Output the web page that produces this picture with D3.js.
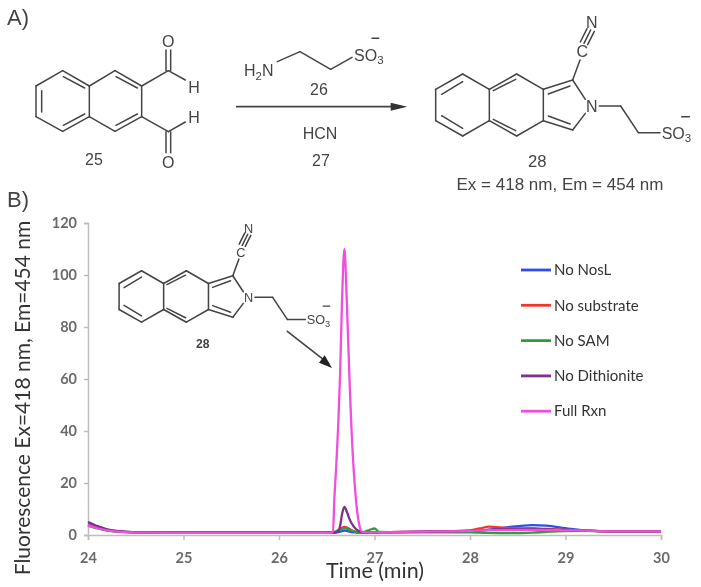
<!DOCTYPE html>
<html>
<head>
<meta charset="utf-8">
<style>
  html, body { margin: 0; padding: 0; background: #fff; }
  svg { display: block; filter: blur(0.5px); }
  .chem { font-family: "Liberation Sans", Arial, sans-serif; fill: #444; }
  .axis text { font-family: "Lato", sans-serif; font-size: 14.5px; font-weight: 700; fill: #6a6a6a; }
  .axis path, .axis line { stroke: #bdbdbd; stroke-width: 1.5; }
</style>
<script src="https://cdn.jsdelivr.net/npm/d3@7"></script>
</head>
<body>
<svg width="701" height="587"></svg>
<script>
// retention time (min), shared by all the traces
let times = [24, 24.1, 24.2, 24.35, 24.6, 25, 25.5, 26, 26.4, 26.5, 26.565, 26.58, 26.6, 26.62, 26.64, 26.66, 26.685, 26.71, 26.74, 26.76, 26.8, 26.84, 26.87, 26.95, 27, 27.05, 27.5, 28, 28.1, 28.2, 28.4, 28.65, 28.8, 29, 29.2, 29.5, 30];

let noNosl   = [4.2, 3, 2, 1.3, 1, 0.9, 0.9, 0.9, 0.9, 0.9, 0.9, 0.9, 1, 1.1, 1.3, 1.5, 1.7, 1.6, 1.3, 1.1, 1, 0.9, 0.9, 0.9, 0.9, 1, 1.2, 1.5, 1.7, 2, 3, 3.8, 3.6, 2.6, 1.8, 1.4, 1.4];
let noSubstr = [4, 2.8, 1.9, 1.3, 1, 0.9, 0.9, 0.9, 0.9, 0.9, 1, 1.1, 1.4, 1.9, 2.4, 2.8, 3.1, 2.9, 2.3, 1.8, 1.2, 0.9, 0.9, 0.9, 1, 1.1, 1.3, 1.8, 2.5, 3.2, 2.7, 2.5, 2.3, 2, 1.7, 1.4, 1.4];
let noSam    = [3.6, 2.5, 1.7, 1.2, 1, 0.9, 0.9, 0.9, 1, 1, 1.1, 1.2, 1.4, 1.7, 2, 2.4, 2.6, 2.4, 2, 1.7, 1.3, 1.1, 1.1, 2, 2.5, 1.2, 1, 1, 0.9, 0.8, 0.7, 0.9, 1.2, 1.5, 1.6, 1.4, 1.4];
let noDithio = [5, 3.4, 2.2, 1.4, 1, 0.9, 0.9, 0.9, 0.9, 0.9, 0.9, 0.9, 1, 1.5, 3.5, 8, 10.8, 9, 6, 4.5, 2.5, 1.5, 1.1, 0.9, 1, 1.1, 1.3, 1.6, 1.9, 2.1, 2.2, 2.4, 2.2, 1.9, 1.7, 1.4, 1.4];
let fullRxn  = [3.8, 2.6, 1.8, 1.2, 0.9, 0.8, 0.8, 0.8, 0.8, 0.8, 1, 14, 27, 42, 62, 90, 110, 90, 58, 40, 16, 4, 1.2, 0.9, 1, 1.1, 1.3, 1.6, 1.8, 1.9, 1.9, 2, 1.9, 1.8, 1.7, 1.4, 1.4];

let seriesNames = ["No NosL", "No substrate", "No SAM", "No Dithionite", "Full Rxn"];
let seriesValues = [noNosl, noSubstr, noSam, noDithio, fullRxn];
let seriesColors = ["#2f4fe8", "#f0372f", "#2f9e3a", "#7d2f8e", "#ee4fdc"];

let xTicks = [24, 25, 26, 27, 28, 29, 30];
let yTicks = [0, 20, 40, 60, 80, 100, 120];

// bonds of the drawn molecules, [x1, y1, x2, y2]
let bonds25 = [
  [108,258,188,212],[188,212,268,258],[268,258,268,350],[268,350,188,394],[188,394,108,350],[108,350,108,258],
  [268,258,345,212],[345,212,425,258],[425,258,425,350],[425,350,345,394],[345,394,268,350],
  [125,272,125,336],[190,230,254,264],[190,376,254,342],[348,230,412,264],[348,376,412,342],
  [425,258,505,212],[505,212,556,240],[498,212,498,150],[512,212,512,150],
  [425,350,505,395],[505,395,556,366],[498,395,498,458],[512,395,512,458]
];
let bonds26 = [[832,185,900,155],[900,155,992,208],[992,208,1056,172]];
let bonds28 = [
  [257,268,338,222],[338,222,418,268],[418,268,418,362],[418,362,338,408],[338,408,257,362],[257,362,257,268],
  [418,268,500,222],[500,222,580,268],[580,268,580,362],[580,362,500,408],[500,408,418,362],
  [580,268,668,240],[668,240,706,298],[706,340,668,390],[668,390,580,362],
  [275,283,338,245],[275,347,338,385],[430,272,497,238],[430,358,497,392],[595,282,660,258],[595,348,660,372],
  [668,240,690,180],[702,130,722,90],[691,126,711,86],[713,134,733,94],
  [748,318,812,318],[812,318,865,398],[865,398,930,398]
];

let svg = d3.select("svg"),
    margin = {top: 223, right: 40, bottom: 52, left: 88},
    width = +svg.attr("width") - margin.left - margin.right,
    height = +svg.attr("height") - margin.top - margin.bottom,
    g = svg.append("g").attr("transform", "translate(" + margin.left + "," + margin.top + ")");

let x = d3.scaleLinear().domain([24, 30]).range([0, width]);
let y = d3.scaleLinear().domain([0, 120]).range([height, 0]);

let xAxis = g.append("g")
    .attr("class", "axis")
    .attr("transform", "translate(0," + height + ")")
    .call(d3.axisBottom(x).tickValues(xTicks).tickSize(5).tickPadding(13).tickFormat(d3.format("d")));

let yAxis = g.append("g")
    .attr("class", "axis")
    .call(d3.axisLeft(y).tickValues(yTicks).tickSize(4).tickPadding(7));

let line = d3.line()
    .x(function(d, i) { return x(times[i]); })
    .y(function(d) { return y(d); })
    .curve(d3.curveMonotoneX);

g.append("g")
    .attr("fill", "none")
    .attr("stroke-width", 2.3)
    .selectAll("path")
    .data(seriesValues)
    .enter().append("path")
      .attr("d", line)
      .attr("stroke", function(d, i) { return seriesColors[i]; });

// legend
let legend = svg.append("g")
    .selectAll("g")
    .data(seriesNames)
    .enter().append("g")
      .attr("transform", function(d, i) { return "translate(521," + (270 + i * 35.3) + ")"; });

legend.append("line")
    .attr("x2", 30)
    .attr("stroke-width", 2.8)
    .attr("stroke", function(d, i) { return seriesColors[i]; });

legend.append("text")
    .attr("x", 33)
    .attr("dy", "0.35em")
    .attr("font-family", "Lato, sans-serif")
    .attr("font-size", 15)
    .attr("fill", "#333")
    .text(function(d) { return d; });

// axis titles
svg.append("text")
    .attr("transform", "translate(30,398) rotate(-90)")
    .attr("text-anchor", "middle")
    .attr("font-family", "Lato, sans-serif")
    .attr("font-size", 21)
    .attr("fill", "#333")
    .text("Fluorescence Ex=418 nm, Em=454 nm");

svg.append("text")
    .attr("x", 375)
    .attr("y", 578)
    .attr("text-anchor", "middle")
    .attr("font-family", "Lato, sans-serif")
    .attr("font-size", 21.5)
    .attr("fill", "#333")
    .text("Time (min)");

function drawBonds(parent, bonds, w) {
  parent.append("g")
      .attr("stroke", "#444")
      .attr("stroke-width", w)
      .attr("stroke-linecap", "round")
    .selectAll("line")
    .data(bonds)
    .enter().append("line")
      .attr("x1", function(d) { return d[0]; })
      .attr("y1", function(d) { return d[1]; })
      .attr("x2", function(d) { return d[2]; })
      .attr("y2", function(d) { return d[3]; });
}

function label(parent, txt, px, py, size, anchor, sub) {
  let t = parent.append("text")
      .attr("class", "chem")
      .attr("x", px)
      .attr("y", py)
      .attr("font-size", size)
      .attr("text-anchor", anchor || "middle")
      .text(txt);
  if (sub) {
    t.append("tspan").attr("dy", size * 0.22).attr("font-size", size * 0.72).text(sub);
  }
  return t;
}

// molecule coordinates were taken at 3x, hence the scale
let chem = svg.append("g").attr("transform", "scale(" + 1 / 3 + ")");

drawBonds(chem, bonds25, 4.5);
label(chem, "O", 505, 140, 48);
label(chem, "O", 505, 504, 48);
label(chem, "H", 582, 278, 48);
label(chem, "H", 582, 370, 48);
label(chem, "25", 282, 496, 48);

drawBonds(chem, bonds26, 4.5);
chem.append("text").attr("class", "chem").attr("x", 732).attr("y", 229).attr("font-size", 48)
    .text("H").append("tspan").attr("dy", 10).attr("font-size", 34).text("2")
    .select(function() { return this.parentNode; })
    .append("tspan").attr("dy", -10).attr("font-size", 48).text("N");
label(chem, "SO", 1062, 182, 48, "start", "3");
drawBonds(chem, [[1116,115,1136,115]], 4.5);
label(chem, "26", 957, 285, 48);
label(chem, "HCN", 960, 416, 48);
label(chem, "27", 963, 498, 48);

// reaction arrow
drawBonds(chem, [[710,320,1190,320]], 5);
chem.append("path").attr("d", "M1172,308L1222,320L1172,332Z").attr("fill", "#333");

let chem28 = chem.append("g").attr("transform", "translate(1050,0)");
drawBonds(chem28, bonds28, 4.5);
label(chem28, "C", 697, 172, 48);
label(chem28, "N", 725, 84, 48);
label(chem28, "N", 725, 336, 48);
label(chem28, "SO", 935, 416, 48, "start", "3");
drawBonds(chem28, [[995,350,1018,350]], 4.5);
label(chem28, "28", 562, 500, 50);
label(chem28, "Ex = 418 nm, Em = 454 nm", 630, 570, 51);

// same molecule again, smaller, over the peak
let inset = chem.append("g").attr("transform", "translate(144,628) scale(0.83)");
drawBonds(inset, bonds28, 5.5);
label(inset, "C", 697, 172, 46);
label(inset, "N", 725, 84, 46);
label(inset, "N", 725, 336, 46);
label(inset, "SO", 935, 416, 46, "start", "3");
drawBonds(inset, [[995,350,1018,350]], 5);
label(inset, "28", 559, 503, 44).attr("font-weight", "bold");

// arrow to the peak, coordinates read at 3x from y=190
drawBonds(chem, [[862,994,985,1090]], 5);
chem.append("path").attr("d", "M996,1104L957,1088L974,1066Z").attr("fill", "#222");

label(chem, "A)", 7 * 3, 75, 66, "start");
label(chem, "B)", 7 * 3, 622, 66, "start");
</script>
</body>
</html>
